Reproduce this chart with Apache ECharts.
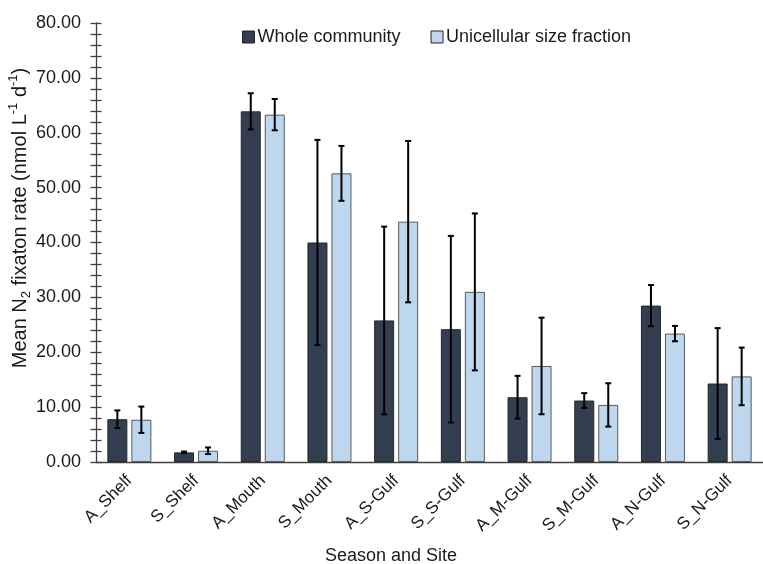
<!DOCTYPE html>
<html>
<head>
<meta charset="utf-8">
<script src="https://cdn.jsdelivr.net/npm/echarts@6/dist/echarts.min.js"></script>
<style>html,body{margin:0;padding:0;background:#fff}#c{width:763px;height:564px}</style>
</head>
<body>
<div id="c"></div>
<script>
const categories = ['A_Shelf','S_Shelf','A_Mouth','S_Mouth','A_S-Gulf','S_S-Gulf','A_M-Gulf','S_M-Gulf','A_N-Gulf','S_N-Gulf'];
const wholeValues = [7.8, 1.75, 63.9, 40.0, 25.8, 24.2, 11.8, 11.2, 28.5, 14.3];
const wholeErrors = [1.6, 0.15, 3.3, 18.7, 17.1, 17.0, 3.9, 1.35, 3.75, 10.1];
const uniValues = [7.7, 2.05, 63.3, 52.6, 43.8, 31.0, 17.5, 10.4, 23.4, 15.6];
const uniErrors = [2.4, 0.6, 2.85, 5.0, 14.7, 14.3, 8.8, 3.95, 1.4, 5.25];
const yTicks = [0, 10, 20, 30, 40, 50, 60, 70, 80];

const FONT = 'Liberation Sans, Arial, sans-serif';
const TXT = '#1a1a1a';
const DARK = '#333f50';
const LIGHT = '#bdd7ee';
const BAR_W = 20;
const HALF_STEP = 12;

function errSeries(name, vals, errs, off) {
  return {
    type: 'custom',
    name: name + ' err',
    z: 10,
    silent: true,
    data: vals.map((v, i) => [i, v, errs[i]]),
    encode: { x: 0, y: 1 },
    renderItem: function (params, api) {
      const i = api.value(0), v = api.value(1), e = api.value(2);
      const hi = api.coord([i, v + e]);
      const lo = api.coord([i, v - e]);
      const cx = hi[0] + off;
      const cap = 3;
      const st = { stroke: '#000', lineWidth: 2 };
      return {
        type: 'group',
        children: [
          { type: 'line', shape: { x1: cx, y1: hi[1], x2: cx, y2: lo[1] }, style: st },
          { type: 'line', shape: { x1: cx - cap, y1: hi[1], x2: cx + cap, y2: hi[1] }, style: st },
          { type: 'line', shape: { x1: cx - cap, y1: lo[1], x2: cx + cap, y2: lo[1] }, style: st }
        ]
      };
    }
  };
}

const chart = echarts.init(document.getElementById('c'), null, { renderer: 'canvas' });
const yBase = {
  type: 'value',
  min: yTicks[0],
  max: yTicks[yTicks.length - 1],
  interval: 10,
  position: 'left',
  splitLine: { show: false },
  axisLine: { show: true, lineStyle: { color: '#404040', width: 1.3 } },
  minorTick: { show: true, splitNumber: 5, length: 5.5, lineStyle: { color: '#404040', width: 1.3 } },
  axisTick: { show: true, length: 5.5, lineStyle: { color: '#404040', width: 1.3 } }
};
chart.setOption({
  backgroundColor: '#fff',
  animation: false,
  textStyle: { fontFamily: FONT },
  legend: {
    top: 23,
    left: 237,
    itemWidth: 12,
    itemHeight: 12,
    itemGap: 30,
    data: ['Whole community', 'Unicellular size fraction'],
    textStyle: { fontSize: 18, color: TXT, fontFamily: FONT, padding: [0, 0, 0, -2] },
    itemStyle: { borderColor: '#262626', borderWidth: 1 },
    icon: 'rect'
  },
  grid: { left: 96, top: 23, width: 680, bottom: 102, containLabel: false },
  xAxis: {
    type: 'category',
    data: categories,
    axisLine: { lineStyle: { color: '#404040', width: 1.3 } },
    axisTick: { show: false },
    axisLabel: { rotate: 45, fontSize: 17, color: TXT, margin: 16, fontFamily: FONT, interval: 0 }
  },
  yAxis: [
    Object.assign({}, yBase, {
      axisLabel: { fontSize: 18, color: TXT, margin: 15, fontFamily: FONT, formatter: v => v.toFixed(2) }
    }),
    Object.assign({}, yBase, {
      axisLabel: { show: false },
      axisTick: Object.assign({}, yBase.axisTick, { inside: true }),
      minorTick: Object.assign({}, yBase.minorTick, { inside: true }),
      axisLine: { show: false }
    })
  ],
  graphic: [
    {
      type: 'text',
      x: 20, y: 218,
      rotation: Math.PI / 2,
      style: {
        text: '{n|Mean N}{sub|2}{n| fixaton rate (nmol L}{sup|-1}{n| d}{sup|-1}{n|)}',
        align: 'center', verticalAlign: 'middle',
        rich: {
          n: { fontSize: 20, fill: TXT, fontFamily: FONT, lineHeight: 26 },
          sub: { fontSize: 13, fill: TXT, fontFamily: FONT, lineHeight: 26, verticalAlign: 'bottom', padding: [8, 0, 0, 0] },
          sup: { fontSize: 13, fill: TXT, fontFamily: FONT, lineHeight: 26, verticalAlign: 'top', padding: [0, 0, 8, 0] }
        }
      }
    },
    {
      type: 'text',
      x: 391, y: 556,
      style: { text: 'Season and Site', fontSize: 18, fill: TXT, fontFamily: FONT, align: 'center', verticalAlign: 'middle' }
    }
  ],
  series: [
    {
      name: 'Whole community', type: 'bar', data: wholeValues, barWidth: BAR_W, barGap: '20%',
      itemStyle: { color: DARK, borderColor: '#262626', borderWidth: 1 }
    },
    {
      name: 'Unicellular size fraction', type: 'bar', data: uniValues, barWidth: BAR_W, barGap: '20%',
      itemStyle: { color: LIGHT, borderColor: '#595959', borderWidth: 1 }
    },
    errSeries('Whole community', wholeValues, wholeErrors, -HALF_STEP),
    errSeries('Unicellular size fraction', uniValues, uniErrors, HALF_STEP)
  ]
});
</script>
</body>
</html>
